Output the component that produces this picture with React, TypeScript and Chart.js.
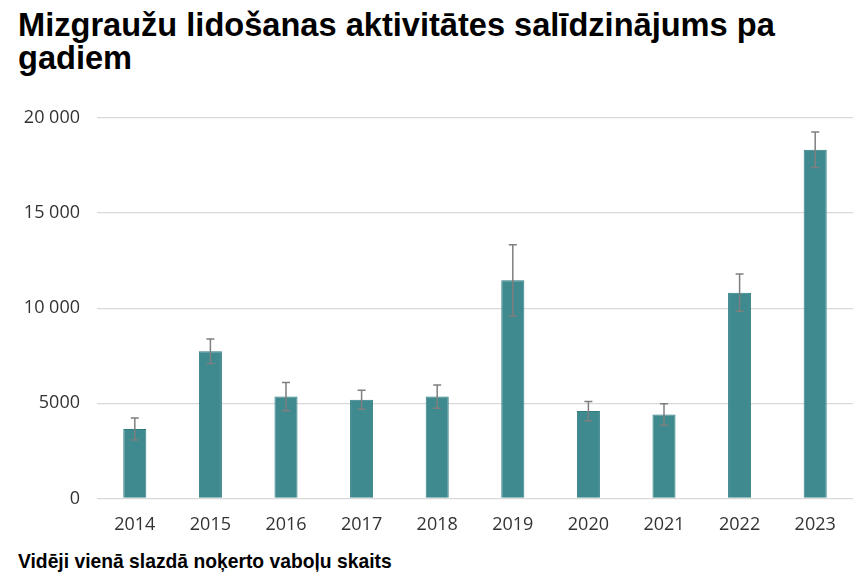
import React, { useEffect, useRef } from 'react';
import { Chart, registerables } from 'chart.js';

Chart.register(...registerables);

const years = ['2014', '2015', '2016', '2017', '2018', '2019', '2020', '2021', '2022', '2023'];
const means = [3650, 7730, 5350, 5180, 5350, 11460, 4590, 4410, 10810, 18320];
const errors = [575, 645, 740, 500, 610, 1870, 505, 560, 980, 935];
const yTicks = [0, 5000, 10000, 15000, 20000];
const yTickLabels = ['0', '5000', '10 000', '15 000', '20 000'];

// draws symmetric error bars on top of each bar
const errorBarPlugin = {
  id: 'errorBars',
  afterDatasetsDraw(chart: any) {
    const { ctx } = chart;
    const meta = chart.getDatasetMeta(0);
    const yScale = chart.scales.y;
    ctx.save();
    ctx.strokeStyle = '#7f7f7f';
    ctx.lineWidth = 1.5;
    meta.data.forEach((bar: any, i: number) => {
      const x = bar.x;
      const top = yScale.getPixelForValue(means[i] + errors[i]);
      const bottom = yScale.getPixelForValue(means[i] - errors[i]);
      ctx.beginPath();
      ctx.moveTo(x, top);
      ctx.lineTo(x, bottom);
      ctx.moveTo(x - 4, top);
      ctx.lineTo(x + 4, top);
      ctx.moveTo(x - 4, bottom);
      ctx.lineTo(x + 4, bottom);
      ctx.stroke();
    });
    ctx.restore();
  },
};

const App: React.FC = () => {
  const canvasRef = useRef<HTMLCanvasElement>(null);

  useEffect(() => {
    document.body.style.margin = '0';
    if (!canvasRef.current) return;
    const chart = new Chart(canvasRef.current, {
      type: 'bar',
      data: {
        labels: years,
        datasets: [
          {
            data: means,
            backgroundColor: '#3e8a8f',
            borderColor: '#2e7b80',
            borderWidth: 1,
            barPercentage: 0.61,
            categoryPercentage: 0.5,
          },
        ],
      },
      options: {
        animation: false,
        responsive: false,
        layout: { padding: { left: 18, right: 13, top: 8, bottom: 0 } },
        plugins: {
          legend: { display: false },
          tooltip: { enabled: false },
        },
        scales: {
          x: {
            grid: { display: false },
            border: { display: false },
            ticks: {
              color: '#333333',
              font: { family: 'Open Sans', size: 18 },
              padding: 8,
            },
          },
          y: {
            min: 0,
            max: 20000,
            afterBuildTicks: (axis: any) => {
              axis.ticks = yTicks.map((v) => ({ value: v }));
            },
            afterFit: (axis: any) => {
              axis.width = 79;
            },
            grid: { color: '#d9d9d9', lineWidth: 1.2, drawTicks: false },
            border: { display: false },
            ticks: {
              color: '#333333',
              font: { family: 'Open Sans', size: 18 },
              padding: 17,
              callback: (v: any) => yTickLabels[yTicks.indexOf(Number(v))],
            },
          },
        },
      },
      plugins: [errorBarPlugin],
    });
    return () => chart.destroy();
  }, []);

  return (
    <div style={{ position: 'relative', width: 866, height: 577, background: '#fff', overflow: 'hidden' }}>
      <div
        style={{
          position: 'absolute',
          left: 18,
          top: 8,
          width: 840,
          fontFamily: '"Liberation Sans", Arial, sans-serif',
          fontWeight: 'bold',
          fontSize: 32.6,
          lineHeight: '33px',
          color: '#000',
        }}
      >
        Mizgraužu lidošanas aktivitātes salīdzinājums pa
        <br />
        gadiem
      </div>
      <canvas ref={canvasRef} width={866} height={454} style={{ position: 'absolute', left: 0, top: 90 }} />
      <div
        style={{
          position: 'absolute',
          left: 18,
          top: 551,
          fontFamily: '"Liberation Sans", Arial, sans-serif',
          fontWeight: 'bold',
          fontSize: 19.3,
          color: '#000',
        }}
      >
        Vidēji vienā slazdā noķerto vaboļu skaits
      </div>
    </div>
  );
};

export default App;
